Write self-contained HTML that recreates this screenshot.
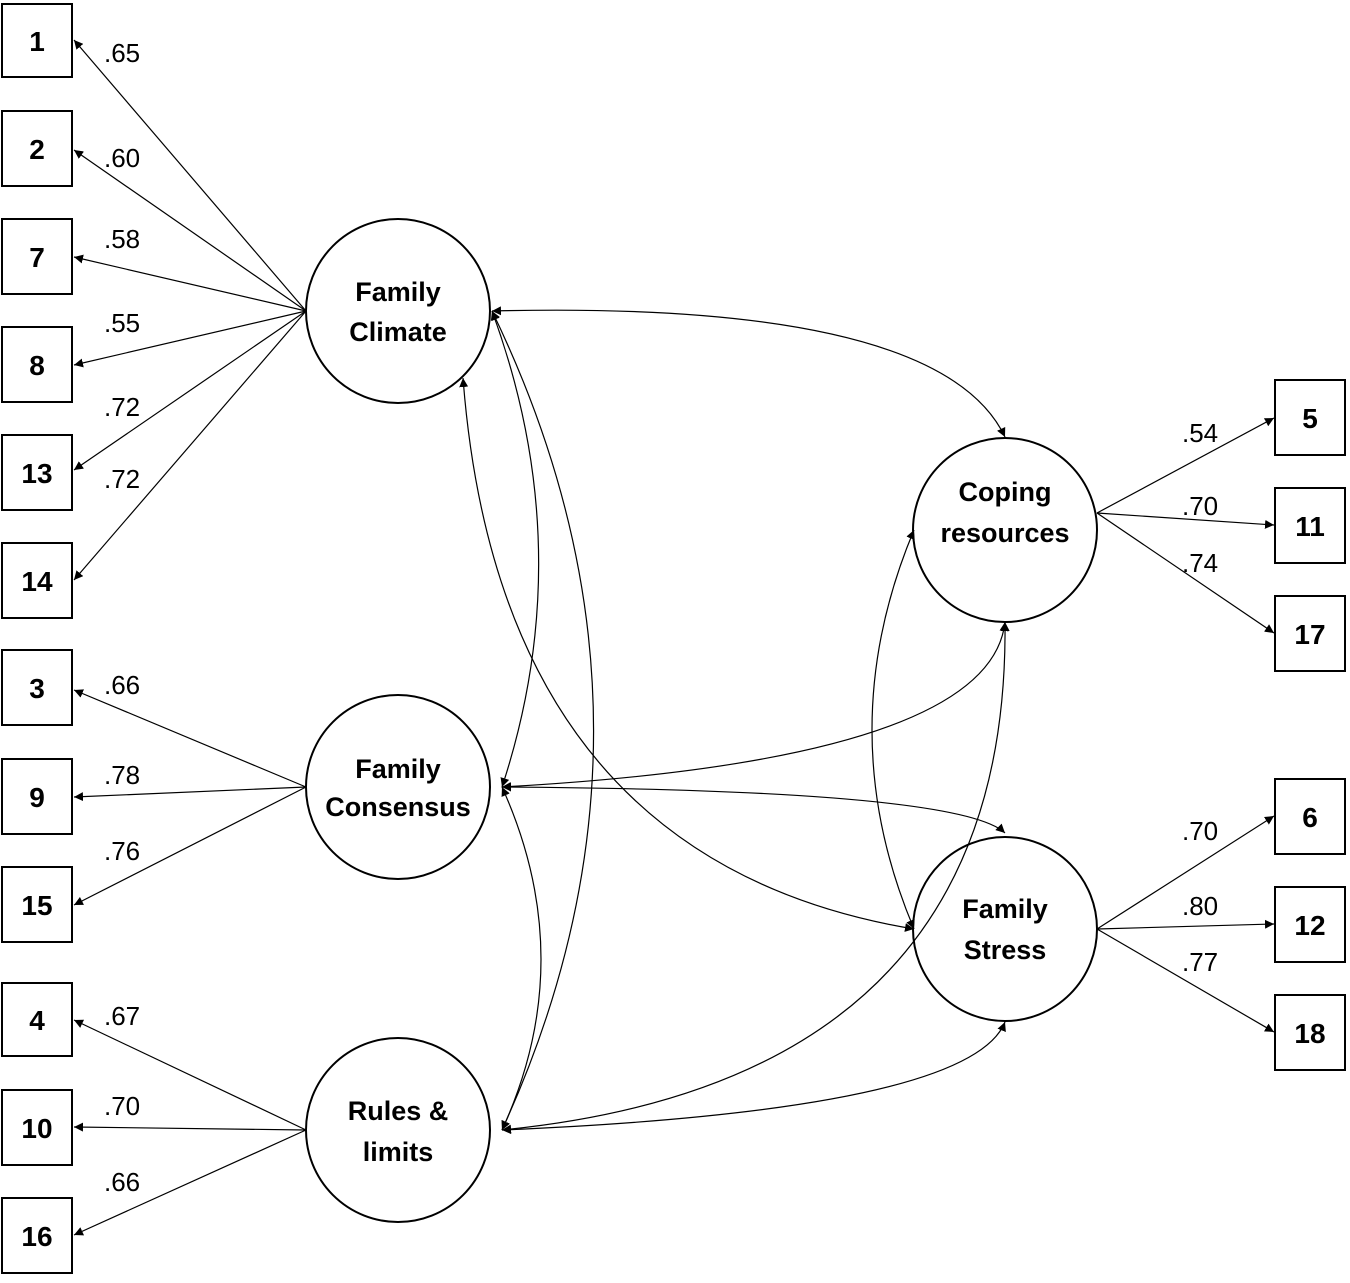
<!DOCTYPE html>
<html><head><meta charset="utf-8"><style>
html,body{margin:0;padding:0;background:#fff;}
svg text{font-family:"Liberation Sans",sans-serif;}
</style></head><body>
<svg width="1350" height="1278" viewBox="0 0 1350 1278" xmlns="http://www.w3.org/2000/svg">
<defs>
<marker id="a" viewBox="0 0 10 10" refX="10" refY="5" markerWidth="9" markerHeight="9" markerUnits="userSpaceOnUse" orient="auto-start-reverse">
<path d="M0,0 L10,5 L0,10 z" fill="#000"/></marker>
</defs>
<g fill="#fff" stroke="#000" stroke-width="2">
<rect x="2" y="4" width="70" height="73"/>
<rect x="2" y="111" width="70" height="75"/>
<rect x="2" y="219" width="70" height="75"/>
<rect x="2" y="327" width="70" height="75"/>
<rect x="2" y="435" width="70" height="75"/>
<rect x="2" y="543" width="70" height="75"/>
<rect x="2" y="650" width="70" height="75"/>
<rect x="2" y="759" width="70" height="75"/>
<rect x="2" y="867" width="70" height="75"/>
<rect x="2" y="983" width="70" height="73"/>
<rect x="2" y="1090" width="70" height="75"/>
<rect x="2" y="1198" width="70" height="75"/>
<rect x="1275" y="380" width="70" height="75"/>
<rect x="1275" y="488" width="70" height="75"/>
<rect x="1275" y="596" width="70" height="75"/>
<rect x="1275" y="779" width="70" height="75"/>
<rect x="1275" y="887" width="70" height="75"/>
<rect x="1275" y="995" width="70" height="75"/>
<circle cx="398" cy="311" r="92"/>
<circle cx="398" cy="787" r="92"/>
<circle cx="398" cy="1130" r="92"/>
<circle cx="1005" cy="530" r="92"/>
<circle cx="1005" cy="929" r="92"/>
</g>
<g stroke="#000" stroke-width="1.2" fill="none">
<line x1="306" y1="311" x2="74" y2="40" marker-end="url(#a)"/>
<line x1="306" y1="311" x2="74" y2="150" marker-end="url(#a)"/>
<line x1="306" y1="311" x2="74" y2="257" marker-end="url(#a)"/>
<line x1="306" y1="311" x2="74" y2="365" marker-end="url(#a)"/>
<line x1="306" y1="311" x2="74" y2="470" marker-end="url(#a)"/>
<line x1="306" y1="311" x2="74" y2="580" marker-end="url(#a)"/>
<line x1="306" y1="787" x2="74" y2="690" marker-end="url(#a)"/>
<line x1="306" y1="787" x2="74" y2="797" marker-end="url(#a)"/>
<line x1="306" y1="787" x2="74" y2="905" marker-end="url(#a)"/>
<line x1="306" y1="1130" x2="74" y2="1020" marker-end="url(#a)"/>
<line x1="306" y1="1130" x2="74" y2="1127" marker-end="url(#a)"/>
<line x1="306" y1="1130" x2="74" y2="1235" marker-end="url(#a)"/>
<line x1="1097" y1="513" x2="1274" y2="418" marker-end="url(#a)"/>
<line x1="1097" y1="513" x2="1274" y2="525" marker-end="url(#a)"/>
<line x1="1097" y1="513" x2="1274" y2="633" marker-end="url(#a)"/>
<line x1="1097" y1="929" x2="1274" y2="816" marker-end="url(#a)"/>
<line x1="1097" y1="929" x2="1274" y2="924" marker-end="url(#a)"/>
<line x1="1097" y1="929" x2="1274" y2="1032" marker-end="url(#a)"/>
<path d="M492,311 Q940,300 1005,437" marker-start="url(#a)" marker-end="url(#a)"/>
<path d="M492,311 Q580,550 502,787" marker-start="url(#a)" marker-end="url(#a)"/>
<path d="M492,311 Q690,720 502,1130" marker-start="url(#a)" marker-end="url(#a)"/>
<path d="M463,378 Q500,860 914,929" marker-start="url(#a)" marker-end="url(#a)"/>
<path d="M502,787 Q990,760 1005,622" marker-start="url(#a)" marker-end="url(#a)"/>
<path d="M502,787 Q960,790 1005,833" marker-start="url(#a)" marker-end="url(#a)"/>
<path d="M502,787 Q580,960 502,1130" marker-start="url(#a)" marker-end="url(#a)"/>
<path d="M914,530 Q830,730 914,929" marker-start="url(#a)" marker-end="url(#a)"/>
<path d="M502,1130 Q1010,1080 1005,622" marker-start="url(#a)" marker-end="url(#a)"/>
<path d="M502,1130 Q970,1110 1005,1022" marker-start="url(#a)" marker-end="url(#a)"/>
</g>
<g font-size="28" font-weight="bold" text-anchor="middle">
<text x="37" y="51">1</text><text x="37" y="159">2</text><text x="37" y="267">7</text>
<text x="37" y="375">8</text><text x="37" y="483">13</text><text x="37" y="591">14</text>
<text x="37" y="698">3</text><text x="37" y="807">9</text><text x="37" y="915">15</text>
<text x="37" y="1030">4</text><text x="37" y="1138">10</text><text x="37" y="1246">16</text>
<text x="1310" y="428">5</text><text x="1310" y="536">11</text><text x="1310" y="644">17</text>
<text x="1310" y="827">6</text><text x="1310" y="935">12</text><text x="1310" y="1043">18</text>
</g>
<g font-size="27" font-weight="bold" text-anchor="middle">
<text x="398" y="301">Family</text><text x="398" y="341">Climate</text>
<text x="398" y="778">Family</text><text x="398" y="816">Consensus</text>
<text x="398" y="1120">Rules &amp;</text><text x="398" y="1161">limits</text>
<text x="1005" y="501">Coping</text><text x="1005" y="542">resources</text>
<text x="1005" y="918">Family</text><text x="1005" y="959">Stress</text>
</g>
<g font-size="26">
<text x="104" y="62">.65</text><text x="104" y="167">.60</text><text x="104" y="248">.58</text>
<text x="104" y="332">.55</text><text x="104" y="416">.72</text><text x="104" y="488">.72</text>
<text x="104" y="694">.66</text><text x="104" y="784">.78</text><text x="104" y="860">.76</text>
<text x="104" y="1025">.67</text><text x="104" y="1115">.70</text><text x="104" y="1191">.66</text>
<text x="1182" y="442">.54</text><text x="1182" y="515">.70</text><text x="1182" y="572">.74</text>
<text x="1182" y="840">.70</text><text x="1182" y="915">.80</text><text x="1182" y="971">.77</text>
</g>
</svg>
</body></html>
